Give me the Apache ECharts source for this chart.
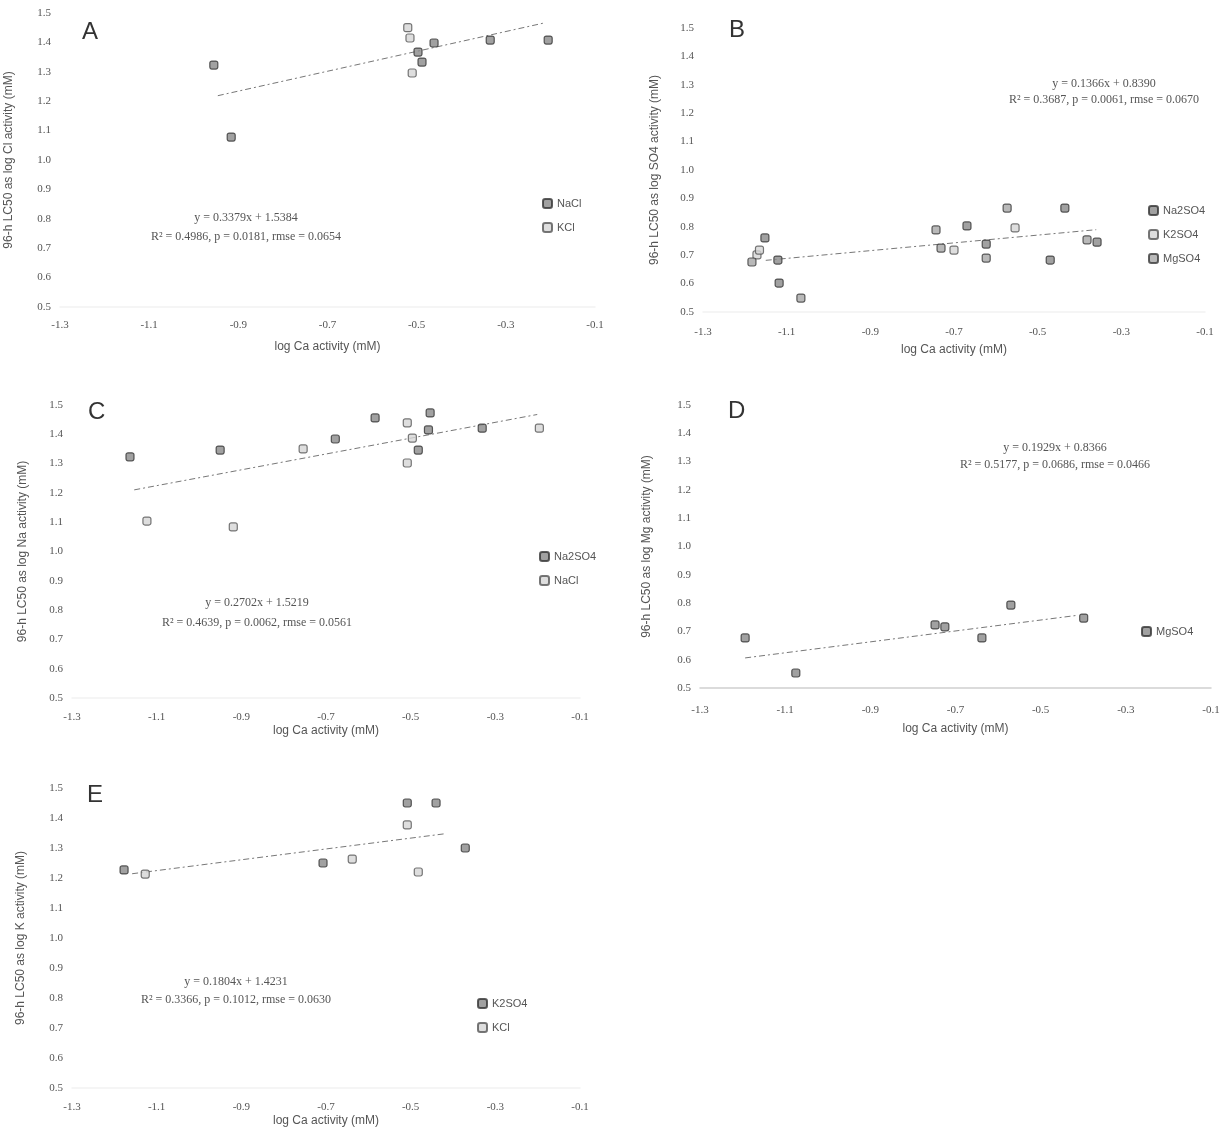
<!DOCTYPE html>
<html>
<head>
<meta charset="utf-8">
<script src="https://cdn.jsdelivr.net/npm/echarts@6/dist/echarts.min.js"></script>
<style>html,body{margin:0;padding:0;background:#fff}#c{width:1224px;height:1131px}</style>
</head>
<body>
<div id="c"></div>
<script>
// ---- tick labels ----
const xTicks = [-1.3, -1.1, -0.9, -0.7, -0.5, -0.3, -0.1];
const yTicks = [0.5, 0.6, 0.7, 0.8, 0.9, 1.0, 1.1, 1.2, 1.3, 1.4, 1.5];

// ---- panel A (Cl) ----
const A_NaCl = [[-0.955,1.323],[-0.916,1.078],[-0.497,1.367],[-0.488,1.333],[-0.461,1.398],[-0.335,1.408],[-0.205,1.408]];
const A_KCl  = [[-0.520,1.450],[-0.515,1.415],[-0.510,1.296]];
// ---- panel B (SO4) ----
const B_Na2SO4 = [[-1.152,0.761],[-1.121,0.683],[-1.118,0.602],[-0.669,0.803],[-0.623,0.739],[-0.470,0.683],[-0.435,0.866],[-0.358,0.746]];
const B_K2SO4  = [[-1.171,0.701],[-1.165,0.718],[-0.700,0.718],[-0.554,0.796]];
const B_MgSO4  = [[-1.183,0.676],[-1.066,0.549],[-0.743,0.789],[-0.731,0.725],[-0.623,0.690],[-0.573,0.866],[-0.382,0.754]];
// ---- panel C (Na) ----
const C_Na2SO4 = [[-1.163,1.323],[-0.950,1.346],[-0.678,1.384],[-0.584,1.456],[-0.454,1.473],[-0.458,1.415],[-0.482,1.346],[-0.331,1.421]];
const C_NaCl   = [[-1.123,1.104],[-0.919,1.084],[-0.754,1.350],[-0.508,1.439],[-0.496,1.387],[-0.508,1.302],[-0.196,1.421]];
// ---- panel D (Mg) ----
const D_MgSO4 = [[-1.194,0.677],[-1.075,0.553],[-0.748,0.723],[-0.725,0.716],[-0.638,0.677],[-0.570,0.793],[-0.399,0.747]];
// ---- panel E (K) ----
const E_K2SO4 = [[-1.177,1.227],[-0.707,1.250],[-0.508,1.450],[-0.440,1.450],[-0.371,1.300]];
const E_KCl   = [[-1.127,1.213],[-0.638,1.263],[-0.508,1.377],[-0.482,1.220]];

// ---- regression lines: [slope, intercept], x range ----
const trendCoef  = [[0.3379,1.5384],[0.1366,0.8390],[0.2702,1.5219],[0.1929,0.8366],[0.1804,1.4231]];
const trendRange = [[-0.946,-0.212],[-1.15,-0.36],[-1.153,-0.201],[-1.194,-0.413],[-1.158,-0.421]];
const eqLine1 = ["y = 0.3379x + 1.5384","y = 0.1366x + 0.8390","y = 0.2702x + 1.5219","y = 0.1929x + 0.8366","y = 0.1804x + 1.4231"];
const eqLine2 = ["R² = 0.4986, p = 0.0181, rmse = 0.0654","R² = 0.3687, p = 0.0061, rmse = 0.0670","R² = 0.4639, p = 0.0062, rmse = 0.0561","R² = 0.5177, p = 0.0686, rmse = 0.0466","R² = 0.3366, p = 0.1012, rmse = 0.0630"];
const panelLetters = ["A","B","C","D","E"];
const yTitles = ["96-h LC50 as log Cl activity (mM)","96-h LC50 as log SO4 activity (mM)","96-h LC50 as log Na activity (mM)","96-h LC50 as log Mg activity (mM)","96-h LC50 as log K activity (mM)"];
const xTitle = "log Ca activity (mM)";
const seriesSets = [
  [["NaCl",A_NaCl],["KCl",A_KCl]],
  [["Na2SO4",B_Na2SO4],["K2SO4",B_K2SO4],["MgSO4",B_MgSO4]],
  [["Na2SO4",C_Na2SO4],["NaCl",C_NaCl]],
  [["MgSO4",D_MgSO4]],
  [["K2SO4",E_K2SO4],["KCl",E_KCl]]
];

// ---- layout ----
const grids = [
  {left:60, top:13, width:535, height:294},
  {left:703, top:28, width:502, height:284},
  {left:72, top:405, width:508, height:293},
  {left:700, top:405, width:511, height:283},
  {left:72, top:788, width:508, height:300}
];
const yNameGap = [45,42,43,47,45];
const xNameGap = [34,32,27,35,27];
const xLabelMargin = [13,15,14,17,14];
const axisLineColor = ['#f2f2f2','#f2f2f2','#f2f2f2','#cfcfcf','#f2f2f2'];
const legendPos = [{left:537,top:193},{left:1143,top:200},{left:534,top:546},{left:1136,top:621},{left:472,top:993}];
const eqPos = [[246,218,237],[1104,84,100],[257,603,623],[1055,448,465],[236,982,1000]];
const letterPos = [[82,20],[729,18],[88,400],[728,399],[87,783]];
const markerStyles = [
  {color:'#8a8a8a', borderColor:'#333', borderWidth:1.2},
  {color:'#d6d6d6', borderColor:'#555', borderWidth:1.2},
  {color:'#a8a8a8', borderColor:'#3a3a3a', borderWidth:1.2}
];

const tickFont = {fontFamily:'Liberation Serif', fontSize:11, color:'#555'};
const option = {
  animation:false,
  backgroundColor:'#fff',
  grid:[], xAxis:[], yAxis:[], series:[], legend:[], graphic:[]
};

grids.forEach((g,i)=>{
  option.grid.push(g);
  option.xAxis.push({
    type:'value', gridIndex:i, min:-1.3, max:-0.1,
    name:xTitle, nameLocation:'middle', nameGap:xNameGap[i],
    nameTextStyle:{fontFamily:'Liberation Sans', fontSize:12, color:'#555'},
    axisLine:{show:true, onZero:false, lineStyle:{color:axisLineColor[i], width:1.5}},
    axisTick:{show:false},
    splitLine:{show:false},
    axisLabel:Object.assign({margin:xLabelMargin[i], customValues:xTicks, formatter:v=>v.toFixed(1), showMinLabel:true, showMaxLabel:true}, tickFont)
  });
  option.yAxis.push({
    type:'value', gridIndex:i, min:0.5, max:1.5, interval:0.1,
    name:yTitles[i], nameLocation:'middle', nameGap:yNameGap[i],
    nameTextStyle:{fontFamily:'Liberation Sans', fontSize:12, color:'#555'},
    axisLine:{show:false}, axisTick:{show:false}, splitLine:{show:false},
    axisLabel:Object.assign({margin:9, customValues:yTicks, formatter:v=>v.toFixed(1)}, tickFont)
  });
  const names = [];
  seriesSets[i].forEach((s,k)=>{
    const nm = panelLetters[i]+':'+s[0];
    names.push(nm);
    option.series.push({
      name:nm, type:'scatter', xAxisIndex:i, yAxisIndex:i,
      data:s[1], symbol:'roundRect', symbolSize:8,
      itemStyle:markerStyles[k], z:3
    });
  });
  // regression line from coefficients
  const [m,b] = trendCoef[i];
  const xr = trendRange[i];
  option.series.push({
    type:'line', xAxisIndex:i, yAxisIndex:i, symbol:'none', silent:true,
    data:xr.map(x=>[x, m*x+b]),
    lineStyle:{color:'#777', width:1, type:[6,3,2,3]}, z:2
  });
  option.legend.push({
    data:names.map(n=>({name:n, icon:'roundRect'})), orient:'vertical',
    left:legendPos[i].left, top:legendPos[i].top,
    itemWidth:9, itemHeight:9, itemGap:13,
    textStyle:{fontFamily:'Liberation Sans', fontSize:11, color:'#555'},
    formatter:n=>n.split(':')[1], selectedMode:false
  });
  option.graphic.push({
    type:'text', left:letterPos[i][0], top:letterPos[i][1],
    style:{text:panelLetters[i], font:'24px "Liberation Sans"', fill:'#333'}
  });
  const [cx,y1,y2] = eqPos[i];
  option.graphic.push({
    type:'text', x:cx, y:y1,
    style:{text:eqLine1[i], font:'12px "Liberation Serif"', fill:'#555', align:'center', verticalAlign:'middle'}
  });
  option.graphic.push({
    type:'text', x:cx, y:y2,
    style:{text:eqLine2[i], font:'12px "Liberation Serif"', fill:'#555', align:'center', verticalAlign:'middle'}
  });
});

const chart = echarts.init(document.getElementById('c'), null, {renderer:'canvas'});
chart.setOption(option);
</script>
</body>
</html>
